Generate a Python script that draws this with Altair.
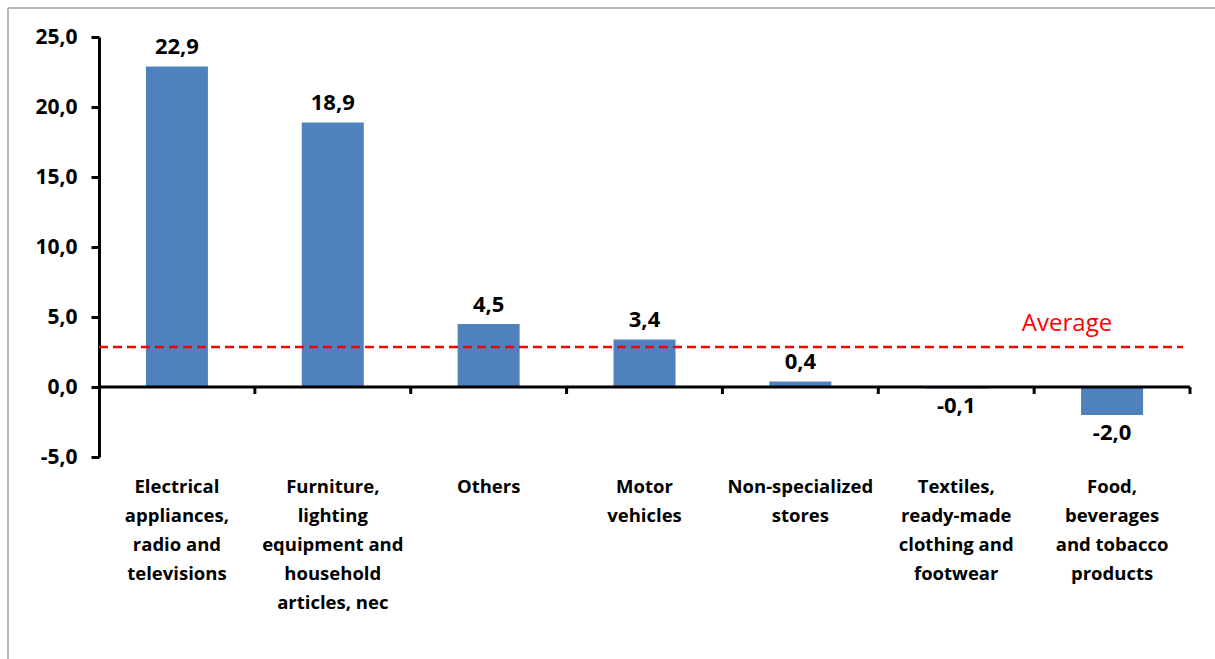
import altair as alt
import pandas as pd

categories = [
    "Electrical|appliances,|radio and|televisions",
    "Furniture,|lighting|equipment and|household|articles, nec",
    "Others",
    "Motor|vehicles",
    "Non-specialized|stores",
    "Textiles,|ready-made|clothing and|footwear",
    "Food,|beverages|and tobacco|products",
]
values = [22.9, 18.9, 4.5, 3.4, 0.4, -0.1, -2.0]
average = 2.85
average_label = "Average"

FONT = "Open Sans"

df = pd.DataFrame({"cat": categories, "val": values})
df["lbl"] = [f"{v:.1f}".replace(".", ",") for v in values]

W, H = 1091, 420

x = alt.X("cat:N", sort=categories, scale=alt.Scale(paddingInner=0, paddingOuter=0),
          axis=alt.Axis(title=None, labelAngle=0, domain=False, ticks=False,
                        labelExpr="split(datum.label, '|')", labelFont=FONT,
                        labelFontSize=18.5, labelFontWeight="bold", labelColor="black",
                        labelPadding=20, labelLineHeight=29, labelBaseline="top",
                        labelLimit=200))
y = alt.Y("val:Q", scale=alt.Scale(domain=[-5, 25], nice=False),
          axis=alt.Axis(title=None, values=[-5, 0, 5, 10, 15, 20, 25], grid=False,
                        labelExpr="replace(replace(format(datum.value, '.1f'), '.', ','), '\u2212', '-')",
                        labelFont=FONT, labelFontSize=21, labelFontWeight="bold",
                        labelColor="black", labelPadding=14, tickSize=8, tickWidth=3,
                        tickColor="black", domainColor="black", domainWidth=3))

base = alt.Chart(df)

bars = base.mark_bar(color="#4F81BD", size=62).encode(x=x, y=y)

lab_pos = base.transform_filter("datum.val >= 0").mark_text(
    font=FONT, fontSize=22, fontWeight="bold", color="black", baseline="bottom", dy=-7
).encode(x=alt.X("cat:N", sort=categories), y="val:Q", text="lbl:N")

lab_neg = base.transform_filter("datum.val < 0").mark_text(
    font=FONT, fontSize=22, fontWeight="bold", color="black", baseline="top", dy=8
).encode(x=alt.X("cat:N", sort=categories), y="val:Q", text="lbl:N")

zero = alt.Chart(pd.DataFrame({"z": [0]})).mark_rule(color="black", strokeWidth=3).encode(
    y="z:Q", x=alt.value(0), x2=alt.value(W))

ticks = base.mark_rule(color="black", strokeWidth=3).encode(
    x=alt.X("cat:N", sort=categories, bandPosition=1),
    y=alt.datum(0), y2=alt.datum(-0.5))

avg_df = pd.DataFrame({"a": [average], "t": [average_label]})
avg_line = alt.Chart(avg_df).mark_rule(color="#FF0000", strokeWidth=2.5, strokeDash=[9, 5]).encode(
    y="a:Q", x=alt.value(0), x2=alt.value(1084))
avg_text = alt.Chart(avg_df).mark_text(
    font=FONT, fontSize=24, color="#FF0000", baseline="bottom", dy=-11
).encode(y="a:Q", x=alt.value(968), text="t:N")

border = alt.Chart(avg_df).mark_rule(color="#A0A0A0", strokeWidth=1.5).encode(
    x=alt.value(-91), x2=alt.value(-91), y=alt.value(-29), y2=alt.value(640))
border_top = alt.Chart(avg_df).mark_rule(color="#A0A0A0", strokeWidth=1.5).encode(
    x=alt.value(-91), x2=alt.value(1130), y=alt.value(-29), y2=alt.value(-29))

chart = alt.layer(bars, avg_line, zero, ticks, lab_pos, lab_neg, avg_text, border, border_top).properties(
    width=W, height=H,
    autosize=alt.AutoSizeParams(type="none"),
    padding={"left": 99, "top": 37, "right": 25, "bottom": 202},
).configure(background="white").configure_view(stroke=None, strokeWidth=0)

chart.save("out.html", embed_options={"renderer": "svg", "actions": False})
